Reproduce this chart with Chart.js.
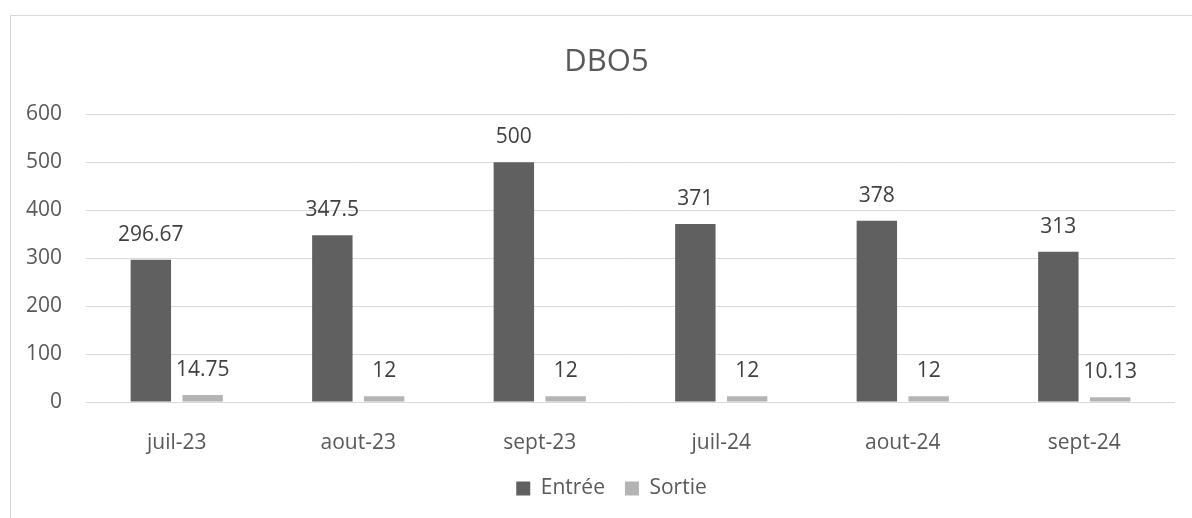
<!DOCTYPE html>
<html>
<head>
<meta charset="utf-8">
<script src="https://cdn.jsdelivr.net/npm/chart.js@4"></script>
<style>
  html, body { margin: 0; padding: 0; background: #fff; overflow: hidden; }
  #wrap { position: relative; width: 1192px; height: 518px; overflow: hidden; }
  #frame { position: absolute; left: 10px; top: 15px; width: 1300px; height: 600px;
           border-left: 1px solid #d9d9d9; border-top: 1px solid #d9d9d9; }
  #chart { position: absolute; left: 0; top: 0; }
</style>
</head>
<body>
<div id="wrap">
  <div id="frame"></div>
  <canvas id="chart" width="1192" height="509"></canvas>
</div>
<script>
const months = ["juil-23", "aout-23", "sept-23", "juil-24", "aout-24", "sept-24"];
const entree = [296.67, 347.5, 500, 371, 378, 313];
const sortie = [14.75, 12, 12, 12, 12, 10.13];
const yTicks = [0, 100, 200, 300, 400, 500, 600];

const textColor = "#595959";
const fontFamily = "'Open Sans', sans-serif";

// values above each bar, like the excel data labels
const valueLabels = {
    id: "valueLabels",
    afterDatasetsDraw(chart) {
        const ctx = chart.ctx;
        ctx.save();
        ctx.font = "21px " + fontFamily;
        ctx.fillStyle = "#404040";
        ctx.textAlign = "center";
        ctx.textBaseline = "middle";
        chart.data.datasets.forEach((ds, i) => {
            chart.getDatasetMeta(i).data.forEach((bar, j) => {
                ctx.fillText(String(ds.data[j]), bar.x, bar.y - 25);
            });
        });
        ctx.restore();
    }
};

// excel centres title and legend on the whole frame, not the plot
const centerBoxes = {
    id: "centerBoxes",
    afterLayout(chart) {
        if (chart.titleBlock) {
            chart.titleBlock.left += 19;
            chart.titleBlock.right += 19;
        }
        if (chart.legend) {
            chart.legend.left += 24;
            chart.legend.right += 24;
        }
    }
};

new Chart(document.getElementById("chart"), {
    type: "bar",
    data: {
        labels: months,
        datasets: [
            {
                label: "Entrée",
                data: entree,
                backgroundColor: "#606060",
                categoryPercentage: 0.571,
                barPercentage: 0.78
            },
            {
                label: "Sortie",
                data: sortie,
                backgroundColor: "#b4b4b4",
                categoryPercentage: 0.571,
                barPercentage: 0.78
            }
        ]
    },
    options: {
        responsive: false,
        animation: false,
        devicePixelRatio: 1,
        layout: { padding: { top: 16, right: 17, left: 0, bottom: 0 } },
        plugins: {
            title: {
                display: true,
                text: "DBO5",
                color: textColor,
                font: { family: fontFamily, size: 31, weight: "normal" },
                padding: { top: 28, bottom: 33 }
            },
            legend: {
                position: "bottom",
                labels: {
                    color: textColor,
                    font: { family: fontFamily, size: 21 },
                    boxWidth: 14,
                    boxHeight: 14,
                    padding: 20
                }
            },
            tooltip: { enabled: false }
        },
        scales: {
            x: {
                grid: { display: false },
                border: { display: false },
                ticks: {
                    color: textColor,
                    font: { family: fontFamily, size: 21 },
                    padding: 20
                },
                afterFit(scale) { scale.height = 56; }
            },
            y: {
                min: 0,
                max: 600,
                afterBuildTicks(scale) { scale.ticks = yTicks.map(v => ({ value: v })); },
                grid: { color: "#d9d9d9", drawTicks: false },
                border: { display: false },
                ticks: {
                    color: textColor,
                    font: { family: fontFamily, size: 21 },
                    padding: 24
                },
                afterFit(scale) { scale.width = 86; }
            }
        }
    },
    plugins: [valueLabels, centerBoxes]
});
</script>
</body>
</html>
